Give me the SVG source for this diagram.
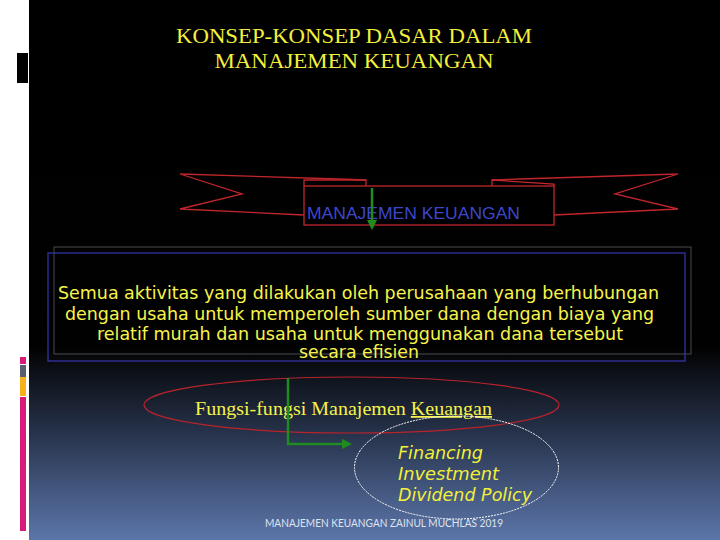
<svg xmlns="http://www.w3.org/2000/svg" width="720" height="540" viewBox="0 0 720 540">
<defs>
<linearGradient id="bg" x1="0" y1="0" x2="0" y2="540" gradientUnits="userSpaceOnUse">
<stop offset="0" stop-color="#000000"/>
<stop offset="0.64" stop-color="#010101"/>
<stop offset="0.8" stop-color="#26324a"/>
<stop offset="1" stop-color="#5c76aa"/>
</linearGradient>
<marker id="gArrow" viewBox="0 0 10 10" refX="8" refY="5" markerWidth="4" markerHeight="4" orient="auto" markerUnits="strokeWidth">
<path d="M0,0 L10,5 L0,10 Z" fill="#1f8c1f"/>
</marker>
<style>
.rib{fill:none;stroke:#c0262b;stroke-width:1.3}
.title{font-family:"Liberation Serif",serif;font-size:20px;fill:#f4f03c}
.body{font-family:"DejaVu Sans Condensed","DejaVu Sans",sans-serif;font-size:17px;fill:#f8f44a}
.item{font-family:"DejaVu Sans Condensed","DejaVu Sans",sans-serif;font-size:18px;font-style:italic;fill:#f2f03a}
.conn{fill:none;stroke:#1f8c1f;stroke-width:2.5}
</style>
</defs>
<rect x="0" y="0" width="720" height="540" fill="#ffffff"/>
<rect x="29" y="0" width="691" height="540" fill="url(#bg)"/>
<rect x="17" y="53" width="11" height="30" fill="#000000"/>
<g id="sidebar">
<rect x="20" y="357" width="6" height="7" fill="#d81b7a"/>
<rect x="20" y="365" width="6" height="12" fill="#58606e"/>
<rect x="20" y="377" width="6" height="19" fill="#f6b21b"/>
<rect x="20" y="397" width="6" height="134" fill="#d81b7a"/>
</g>
<g id="title">
<text class="title" x="354" y="43" text-anchor="middle" textLength="356" lengthAdjust="spacingAndGlyphs">KONSEP-KONSEP DASAR DALAM</text>
<text class="title" x="354" y="68" text-anchor="middle" textLength="279" lengthAdjust="spacingAndGlyphs">MANAJEMEN KEUANGAN</text>
</g>
<g id="ribbon">
<path class="rib" d="M366,180 L338,179 L180,174 L242,194 L180,209 L304,215"/>
<path class="rib" d="M492,180 L520,179 L678,174 L615,194 L678,209 L554,215"/>
<path class="rib" d="M304,186 L304,180 L366,180 L366,186"/>
<path class="rib" d="M492,186 L492,180 L554,184 L554,186"/>
<rect x="304" y="186" width="250" height="39" fill="#000000" stroke="#c0262b" stroke-width="1.3"/>
<text x="307" y="219" font-family="'Liberation Sans',Arial,sans-serif" font-size="17" fill="#3d47cc" textLength="213" lengthAdjust="spacingAndGlyphs">MANAJEMEN KEUANGAN</text>
</g>
<g id="definition">
<rect x="54" y="247" width="637" height="107" fill="none" stroke="#4a4a4a" stroke-width="1"/>
<rect x="48" y="253" width="637" height="108" fill="none" stroke="#3838b0" stroke-width="1.2"/>
<text class="body" x="358.5" y="299" text-anchor="middle" textLength="601" lengthAdjust="spacingAndGlyphs">Semua aktivitas yang dilakukan oleh perusahaan yang berhubungan</text>
<text class="body" x="359.5" y="320" text-anchor="middle" textLength="589" lengthAdjust="spacingAndGlyphs">dengan usaha untuk memperoleh sumber dana dengan biaya yang</text>
<text class="body" x="360" y="340" text-anchor="middle" textLength="526" lengthAdjust="spacingAndGlyphs">relatif murah dan usaha untuk menggunakan dana tersebut</text>
<text class="body" x="359" y="358" text-anchor="middle" textLength="120" lengthAdjust="spacingAndGlyphs">secara efisien</text>
</g>
<g id="fungsi">
<ellipse cx="351.5" cy="405" rx="207.5" ry="28" fill="none" stroke="#b8232c" stroke-width="1.2"/>
<text x="195" y="415" font-family="'Liberation Serif',serif" font-size="18" fill="#f6f24a" textLength="297" lengthAdjust="spacingAndGlyphs">Fungsi-fungsi Manajemen <tspan text-decoration="underline">Keuangan</tspan></text>
</g>
<g id="functions">
<ellipse cx="456.5" cy="467.5" rx="102" ry="51.5" fill="none" stroke="#ffffff" stroke-width="1" stroke-dasharray="2,1"/>
<text class="item" x="398" y="459" textLength="85" lengthAdjust="spacingAndGlyphs">Financing</text>
<text class="item" x="398" y="480" textLength="101" lengthAdjust="spacingAndGlyphs">Investment</text>
<text class="item" x="398" y="501" textLength="134" lengthAdjust="spacingAndGlyphs">Dividend Policy</text>
</g>
<g id="connectors">
<path class="conn" d="M372,188 L372,228" stroke-width="2" marker-end="url(#gArrow)"/>
<path class="conn" d="M288,378 L288,444 L350,444" marker-end="url(#gArrow)"/>
</g>
<g id="footer">
<text x="265" y="527" font-family="Lato,'Open Sans',sans-serif" font-size="10.5" fill="#dfe4f0" textLength="238" lengthAdjust="spacingAndGlyphs">MANAJEMEN KEUANGAN ZAINUL MUCHLAS 2019</text>
</g>
</svg>
